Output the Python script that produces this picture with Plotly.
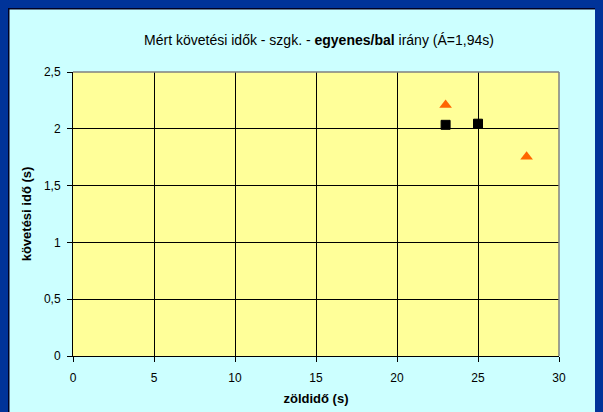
import plotly.graph_objects as go

# Data
sq_x = [23, 25]
sq_y = [2.035, 2.045]
tri_x = [23, 28]
tri_y = [2.21, 1.755]

x_ticks = [0, 5, 10, 15, 20, 25, 30]
y_ticks = [0, 0.5, 1, 1.5, 2, 2.5]

# The page body has an 8px margin; the figure fills the rest of the window
OFF = 8
W, H = 603 - OFF, 412 - OFF
L, R, T, B = 73 - OFF, 559 - OFF, 72 - OFF, 356 - OFF
pw, ph = R - L, B - T

def px(x):
    return (x - L) / pw

def py(y):
    return (B - y) / ph

fig = go.Figure()
fig.add_trace(go.Scatter(x=sq_x, y=sq_y, mode="markers",
                         marker=dict(symbol="square", size=9, color="#000000",
                                     line=dict(color="#000000", width=1)),
                         showlegend=False, cliponaxis=False))
fig.add_trace(go.Scatter(x=tri_x, y=tri_y, mode="markers",
                         marker=dict(symbol="triangle-up", size=11, color="#FF6600",
                                     line=dict(width=0)),
                         showlegend=False, cliponaxis=False))

shapes = [
    # dark shadow lines at left and top of the chart box
    dict(type="line", xref="paper", yref="paper", x0=px(0.75), x1=px(0.75), y0=py(0), y1=py(H),
         line=dict(color="#000022", width=1.5)),
    dict(type="line", xref="paper", yref="paper", x0=px(0), x1=px(W), y0=py(0.75), y1=py(0.75),
         line=dict(color="#000022", width=1.5)),
    # plot area border (gray top/right)
    dict(type="line", xref="paper", yref="paper", x0=0, x1=1, y0=1, y1=1,
         line=dict(color="#808080", width=1.5)),
    dict(type="line", xref="paper", yref="paper", x0=1, x1=1, y0=0, y1=1,
         line=dict(color="#808080", width=1.5)),
]

fig.update_layout(
    width=W, height=H,
    margin=dict(l=L, r=W - R, t=T, b=H - B),
    paper_bgcolor="#CCFFFF",
    plot_bgcolor="#FFFF99",
    separators=", ",
    font=dict(family="Liberation Sans, Arial, sans-serif", size=12, color="#000000"),
    title=dict(text="Mért követési idők - szgk. - <b>egyenes/bal</b> irány (Á=1,94s)",
               x=px(319 - OFF), xref="paper", xanchor="center",
               y=1 - (40 - OFF) / H, yanchor="middle",
               font=dict(size=14, color="#000000")),
    shapes=shapes,
    xaxis=dict(range=[0, 30], tickvals=x_ticks, showgrid=True, gridcolor="#000000", gridwidth=1,
               zeroline=False, showline=True, linecolor="#000000", linewidth=1,
               ticks="outside", ticklen=5, tickcolor="#000000", ticklabelstandoff=6,
               tickfont=dict(size=12), automargin=False,
               title=dict(text="<b>zöldidő (s)</b>", font=dict(size=13), standoff=9)),
    yaxis=dict(range=[0, 2.5], tickvals=y_ticks, showgrid=True, gridcolor="#000000", gridwidth=1,
               zeroline=False, showline=True, linecolor="#000000", linewidth=1,
               ticks="outside", ticklen=5, tickcolor="#000000", ticklabelstandoff=4,
               tickfont=dict(size=12), automargin=False,
               title=dict(text="<b>követési idő (s)</b>", font=dict(size=13), standoff=9)),
)

fig.write_html("out.html", post_script="document.body.style.background='#003399';")
